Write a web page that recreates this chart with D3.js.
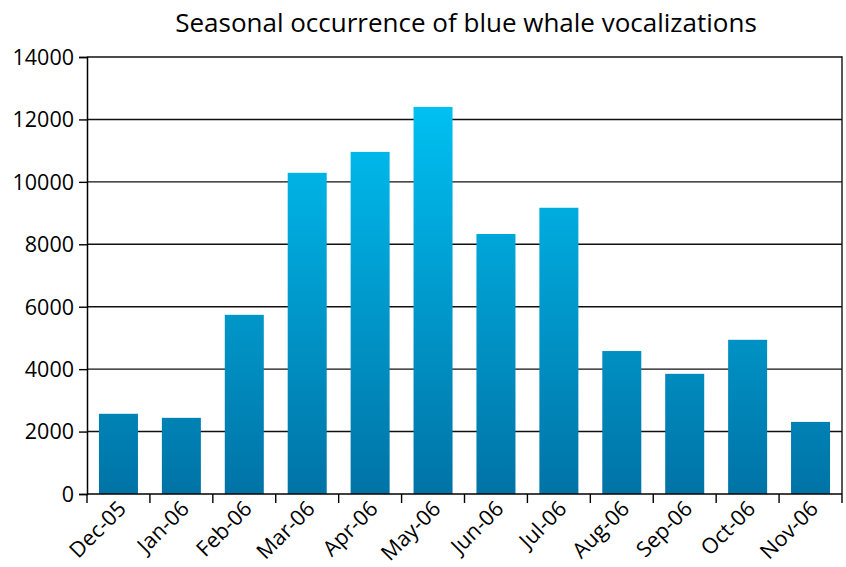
<!DOCTYPE html>
<html><head><meta charset="utf-8">
<script src="https://cdn.jsdelivr.net/npm/d3@7"></script>
<style>body{margin:0;background:#fff}text{font-family:"Open Sans",sans-serif;fill:#000}</style>
</head><body><svg id="c" width="846" height="567"></svg>
<script>
const categories = ["Dec-05","Jan-06","Feb-06","Mar-06","Apr-06","May-06","Jun-06","Jul-06","Aug-06","Sep-06","Oct-06","Nov-06"];
const values = [2570,2440,5740,10290,10960,12400,8330,9170,4580,3850,4940,2310];
const yTicks = [0,2000,4000,6000,8000,10000,12000,14000];
const title = "Seasonal occurrence of blue whale vocalizations";

const svg = d3.select("#c");
const m = {l:87, r:842, t:57, b:494};
const x = d3.scaleBand().domain(categories).range([m.l, m.r]).paddingInner(0.38).paddingOuter(0.19);
const y = d3.scaleLinear().domain([0,14000]).range([m.b, m.t]);

const defs = svg.append("defs");
const g = defs.append("linearGradient").attr("id","grad").attr("gradientUnits","userSpaceOnUse")
  .attr("x1",0).attr("x2",0).attr("y1",y(12400)).attr("y2",y(0));
g.append("stop").attr("offset","0").attr("stop-color","#00c0f2");
g.append("stop").attr("offset","1").attr("stop-color","#0073a6");

// gridlines
svg.append("g").selectAll("line").data(yTicks.filter(d=>d>0)).join("line")
  .attr("x1",m.l).attr("x2",m.r).attr("y1",d=>y(d)).attr("y2",d=>y(d))
  .attr("stroke","#111").attr("stroke-width",1.4);
svg.append("line").attr("x1",m.r).attr("x2",m.r).attr("y1",m.t-0.7).attr("y2",m.b)
  .attr("stroke","#111").attr("stroke-width",1.4);

// bars
svg.append("g").selectAll("rect").data(values).join("rect")
  .attr("x",(d,i)=>x(categories[i])).attr("width",x.bandwidth())
  .attr("y",d=>y(d)).attr("height",d=>y(0)-y(d)).attr("fill","url(#grad)");

// y axis
const ya = svg.append("g").attr("transform",`translate(${m.l},0)`)
  .call(d3.axisLeft(y).tickValues(yTicks).tickSize(8).tickPadding(5).tickFormat(d3.format("d")));
ya.select(".domain").attr("stroke","#000").attr("stroke-width",1.5);
ya.selectAll(".tick line").attr("stroke","#000").attr("stroke-width",1.4);
ya.selectAll(".tick text").attr("font-size",21.5).attr("font-family","'Open Sans',sans-serif").attr("fill","#000").attr("dy","0.34em");

// x axis
const n = categories.length;
const xa = svg.append("g").attr("transform",`translate(0,${m.b})`);
xa.append("line").attr("x1",m.l).attr("x2",m.r).attr("stroke","#000").attr("stroke-width",1.5);
xa.selectAll("line.tk").data(d3.range(n+1)).join("line").attr("class","tk")
  .attr("x1",i=>m.l+i*(m.r-m.l)/n).attr("x2",i=>m.l+i*(m.r-m.l)/n)
  .attr("y1",0).attr("y2",9).attr("stroke","#000").attr("stroke-width",1.4);
xa.selectAll("text").data(categories).join("text")
  .attr("transform",d=>`translate(${x(d)+x.bandwidth()/2+9},${16}) rotate(-45)`)
  .attr("text-anchor","end").attr("font-size",21.5).text(d=>d);

svg.append("text").attr("x",466).attr("y",32).attr("text-anchor","middle")
  .attr("font-size",26).text(title);
</script></body></html>
